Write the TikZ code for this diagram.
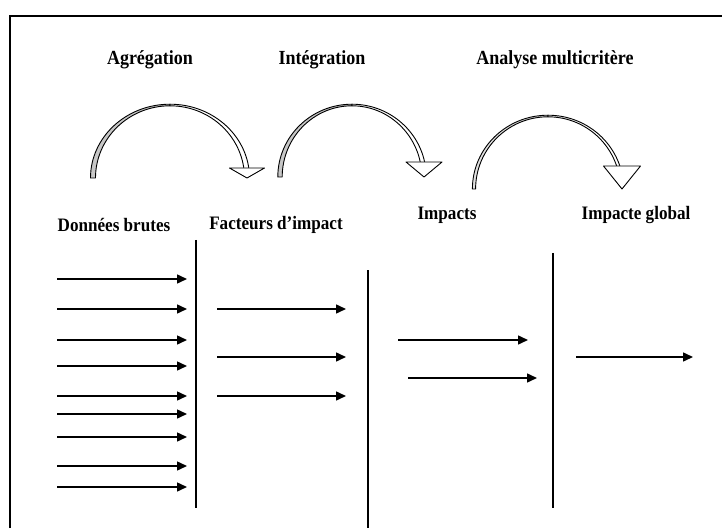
\documentclass[tikz,border=0pt]{standalone}
\usepackage{fontspec}
\setmainfont{Liberation Serif}
\newfontfamily\narrowserif[FakeStretch=0.9]{Liberation Serif}
\usetikzlibrary{arrows.meta}

\definecolor{bandgray}{gray}{0.78}
\definecolor{bandlight}{gray}{0.88}

\tikzset{
  frameline/.style={line width=1.2pt, black},
  sepline/.style={line width=1.3pt, black},
  flow/.style={line width=1.5pt, -{Triangle[length=10pt,width=9pt]}},
  bandline/.style={line width=0.9pt, black, line join=round},
  steplabel/.style={font=\narrowserif\fontsize{20}{22}\selectfont\bfseries, inner sep=0pt},
  levellabel/.style={font=\narrowserif\fontsize{19}{21}\selectfont\bfseries, inner sep=0pt},
}

% Curved block arrow: #1 cx, #2 foot y, #3 x radius, #4 y radius,
% #5 head height, #6 head half width, #7 half band width, #8 shade of the rising half
\newcommand{\curvedstep}[8]{%
  \begin{scope}
    \clip (#1-#3-20,#2-1) -- (#1,#2-1) -- (#1,#2+#5) -- (#1+#3+30,#2+#5)
          -- (#1+#3+30,#2+#4+20) -- (#1-#3-20,#2+#4+20) -- cycle;
    \filldraw[bandline, fill=#8]
      (#1-#3-#7,#2) arc[start angle=180, end angle=90, x radius=#3+#7, y radius=#4+0.8]
      -- (#1,#2+#4-0.8) arc[start angle=90, end angle=180, x radius=#3-#7, y radius=#4-0.8]
      -- cycle;
    \filldraw[bandline, fill=white]
      (#1,#2+#4+0.8) arc[start angle=90, end angle=0, x radius=#3+#7, y radius=#4+0.8]
      -- (#1+#3-#7,#2) arc[start angle=0, end angle=90, x radius=#3-#7, y radius=#4-0.8]
      -- cycle;
  \end{scope}
  \filldraw[bandline, fill=white]
    (#1+#3-#6,#2+#5) -- (#1+#3+#6,#2+#5) -- (#1+#3,#2) -- cycle;
}

\begin{document}
\begin{tikzpicture}[x=1pt, y=1pt]
  \useasboundingbox (0,0) rectangle (722,528);

  % frame (left and top edges)
  \draw[frameline] (10,0) -- (10,512) -- (722,512);

  % process steps
  \node[steplabel] (agg) at (150,468) {Agrégation};
  \node[steplabel] (int) at (322,468) {Intégration};
  \node[steplabel] (amc) at (555,468) {Analyse multicritère};

  % curved step arrows
  \curvedstep{170}{350}{77}{73}{10}{17.5}{2.5}{bandgray}
  \curvedstep{352}{351}{72}{72}{15}{18}{2.2}{bandgray}
  \curvedstep{548}{339}{74}{73}{23}{18.5}{1.6}{bandlight}

  % levels
  \node[levellabel] (raw) at (114,303) {Données brutes};
  \node[levellabel] (fac) at (276,303) {Facteurs d’impact};
  \node[levellabel] (imp) at (447,313) {Impacts};
  \node[levellabel] (glo) at (636,313) {Impacte global};

  % separators
  \draw[sepline] (196,288) -- (196,20);
  \draw[sepline] (368,258) -- (368,0);
  \draw[sepline] (553,275) -- (553,20);

  % raw data flows
  \foreach \yy in {249,219,188,162,132,114,91,62,41}
    \draw[flow] (57,\yy) -- (187,\yy);

  % impact factor flows
  \foreach \yy in {219,171,132}
    \draw[flow] (217,\yy) -- (346,\yy);

  % impact flows
  \draw[flow] (398,188) -- (528,188);
  \draw[flow] (408,150) -- (537,150);

  % global impact flow
  \draw[flow] (576,171) -- (693,171);
\end{tikzpicture}
\end{document}
